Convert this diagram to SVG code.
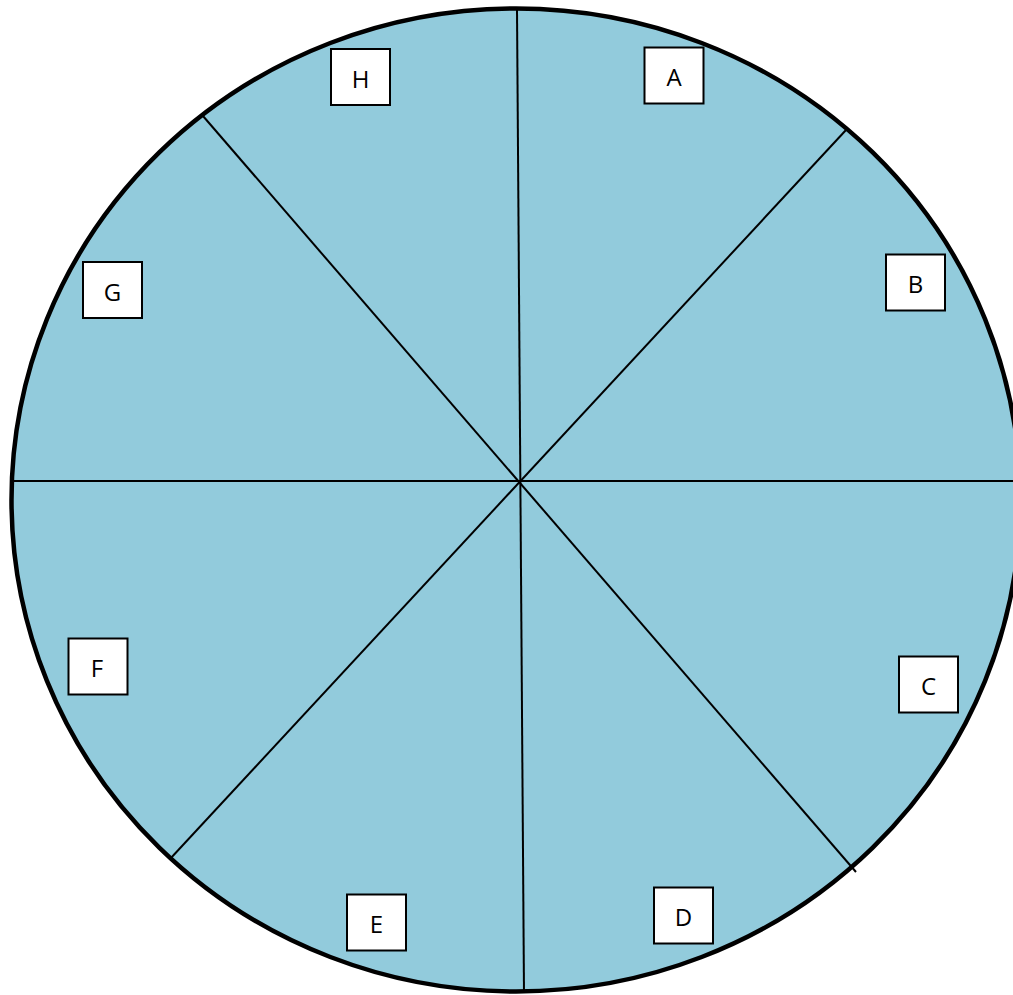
<svg xmlns="http://www.w3.org/2000/svg" width="1013" height="995" viewBox="0 0 1013 995">
<style>
.box rect{fill:#fff;stroke:#000;stroke-width:2}
.box text{font-family:"Open Sans","Liberation Sans",sans-serif;font-size:24px;fill:#000;text-anchor:middle}
.div{stroke:#000;stroke-width:2;fill:none}
</style>
<rect width="1013" height="995" fill="#fff"/>
<g id="wheel">
<ellipse cx="516" cy="500" rx="504.5" ry="491.5" fill="#92cbdc" stroke="#000" stroke-width="4.5"/>
</g>
<g id="connectors">
<line class="div" x1="517" y1="10" x2="524" y2="993"/>
<line class="div" x1="13" y1="481" x2="1013" y2="481"/>
<line class="div" x1="846" y1="130" x2="170" y2="859"/>
<line class="div" x1="203" y1="116" x2="856" y2="872"/>
</g>
<g id="A" class="box"><rect x="644.5" y="47.5" width="59" height="56"/><text x="674" y="86">A</text></g>
<g id="B" class="box"><rect x="886" y="254.5" width="59" height="56"/><text x="915.5" y="293">B</text></g>
<g id="C" class="box"><rect x="899" y="656.5" width="59" height="56"/><text x="928.5" y="695">C</text></g>
<g id="D" class="box"><rect x="654" y="887.5" width="59" height="56"/><text x="683.5" y="926">D</text></g>
<g id="E" class="box"><rect x="347" y="894.5" width="59" height="56"/><text x="376.5" y="933">E</text></g>
<g id="F" class="box"><rect x="68.5" y="638.5" width="59" height="56"/><text x="97" y="677">F</text></g>
<g id="G" class="box"><rect x="83" y="262" width="59" height="56"/><text x="112.5" y="300.5">G</text></g>
<g id="H" class="box"><rect x="331" y="49" width="59" height="56"/><text x="360.5" y="87.5">H</text></g>
</svg>
